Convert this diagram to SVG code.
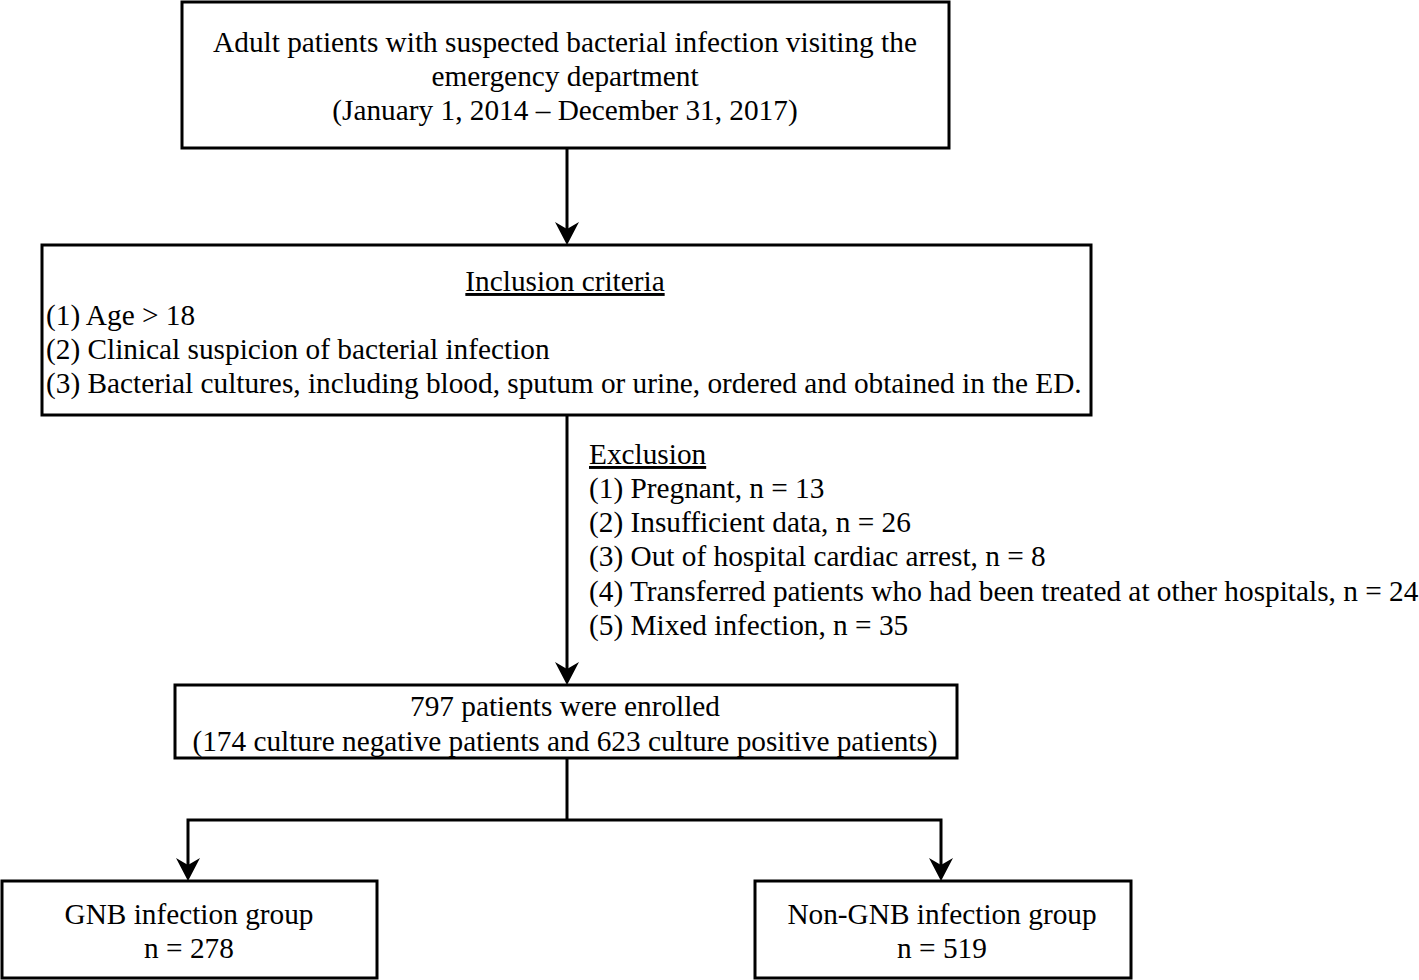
<svg xmlns="http://www.w3.org/2000/svg" width="1419" height="980" viewBox="0 0 1419 980">
<style>
.box{fill:#fff;stroke:#000;stroke-width:3}
text{font-family:"Liberation Serif","Times New Roman",serif;font-size:29.3px;fill:#000}
.c{text-anchor:middle}
.ln{fill:none;stroke:#000;stroke-width:3}
.ah{fill:#000;stroke:none}
</style>
<defs>
<path id="head" d="M0,0 L-12,-23 L0,-16 L12,-23 z"/>
</defs>
<g id="connectors">
<line class="ln" x1="567" y1="148" x2="567" y2="232"/>
<use href="#head" class="ah" x="567" y="245"/>
<line class="ln" x1="567" y1="415" x2="567" y2="672"/>
<use href="#head" class="ah" x="567" y="685"/>
<polyline class="ln" points="567,758 567,820"/>
<polyline class="ln" points="188,868 188,820 941,820 941,868"/>
<use href="#head" class="ah" x="188" y="881"/>
<use href="#head" class="ah" x="941" y="881"/>
</g>
<g id="n1">
<rect class="box" x="182" y="2" width="767" height="146"/>
<text class="c" x="565" y="52">Adult patients with suspected bacterial infection visiting the</text>
<text class="c" x="565" y="86">emergency department</text>
<text class="c" x="565" y="120">(January 1, 2014 – December 31, 2017)</text>
</g>
<g id="n2">
<rect class="box" x="42" y="245" width="1049" height="170"/>
<text class="c" x="565" y="291" text-decoration="underline">Inclusion criteria</text>
<text x="46" y="325">(1) Age &gt; 18</text>
<text x="46" y="359">(2) Clinical suspicion of bacterial infection</text>
<text x="46" y="393">(3) Bacterial cultures, including blood, sputum or urine, ordered and obtained in the ED.</text>
</g>
<g id="exclusion">
<text x="589" y="464" text-decoration="underline">Exclusion</text>
<text x="589" y="498">(1) Pregnant, n = 13</text>
<text x="589" y="532">(2) Insufficient data, n = 26</text>
<text x="589" y="566">(3) Out of hospital cardiac arrest, n = 8</text>
<text x="589" y="601">(4) Transferred patients who had been treated at other hospitals, n = 24</text>
<text x="589" y="635">(5) Mixed infection, n = 35</text>
</g>
<g id="n3">
<rect class="box" x="175" y="685" width="782" height="73"/>
<text class="c" x="565" y="716">797 patients were enrolled</text>
<text class="c" x="565" y="751">(174 culture negative patients and 623 culture positive patients)</text>
</g>
<g id="n4">
<rect class="box" x="2" y="881" width="375" height="97"/>
<text class="c" x="189" y="924">GNB infection group</text>
<text class="c" x="189" y="958">n = 278</text>
</g>
<g id="n5">
<rect class="box" x="755" y="881" width="376" height="97"/>
<text class="c" x="942" y="924">Non-GNB infection group</text>
<text class="c" x="942" y="958">n = 519</text>
</g>
</svg>
